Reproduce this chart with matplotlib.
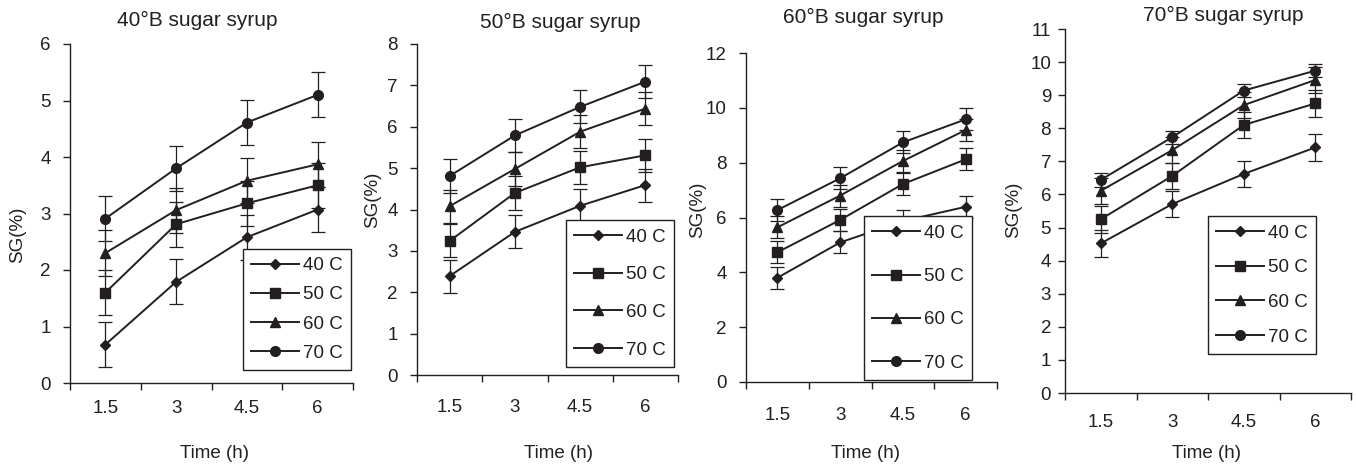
import numpy as np
import matplotlib
matplotlib.use('Agg')
import matplotlib.pyplot as plt

plt.rcParams['font.family'] = ['Liberation Sans', 'DejaVu Sans']
plt.rcParams['font.size'] = 13.5

ink = '#231f20'

# categorical time axis
times = ['1.5', '3', '4.5', '6']
temps = ['40 C', '50 C', '60 C', '70 C']
markers = ['D', 's', '^', 'o']

# SG(%) per syrup strength, one row per drying temperature
b40_sg = [[0.68, 1.79, 2.58, 3.07],
          [1.60, 2.81, 3.18, 3.50],
          [2.30, 3.06, 3.58, 3.87],
          [2.91, 3.80, 4.61, 5.10]]
b50_sg = [[2.39, 3.46, 4.09, 4.59],
          [3.24, 4.40, 5.02, 5.31],
          [4.08, 4.98, 5.88, 6.44],
          [4.81, 5.79, 6.48, 7.09]]
b60_sg = [[3.80, 5.09, 5.87, 6.39],
          [4.73, 5.91, 7.22, 8.12],
          [5.64, 6.80, 8.06, 9.19],
          [6.27, 7.43, 8.74, 9.58]]
b70_sg = [[4.52, 5.71, 6.62, 7.42],
          [5.25, 6.56, 8.10, 8.75],
          [6.11, 7.34, 8.70, 9.46],
          [6.44, 7.73, 9.14, 9.74]]

# error bar half-widths
b40_err = [0.4, 0.4, 0.4, 0.4]
b50_err = [0.4, 0.4, 0.4, 0.4]
b60_err = [0.4, 0.4, 0.4, 0.4]
b70_err = [0.4, 0.4, 0.4, 0.2]

titles = ['40°B sugar syrup', '50°B sugar syrup', '60°B sugar syrup', '70°B sugar syrup']
ymaxes = [6, 8, 12, 11]
ysteps = [1, 1, 2, 1]

W, H = 1356, 470
fig = plt.figure(figsize=(W / 100, H / 100), dpi=100)

# pixel boxes: left, right, top, bottom of each axes
boxes = [(70, 353, 44, 383), (417, 678, 44, 375), (746, 997, 53, 382), (1065, 1351, 29, 393)]
# legend lower-left corner (axes fraction) and label spacing
leg_pos = [(0.611, 0.038), (0.571, 0.024), (0.470, 0.006), (0.500, 0.107)]
leg_space = [0.64, 1.09, 1.39, 0.93]
title_xy = [(197, 20), (560, 22), (863, 17), (1223, 15)]
xlab_xy = [(215, 453), (558, 453), (866, 453), (1206, 453)]
ylab_xy = [(18, 235), (373, 200), (698, 210), (1014, 210)]
xpad = [12, 17, 18, 15]
ypad = [9, 9, 9, 5]

data = [b40_sg, b50_sg, b60_sg, b70_sg]
errs = [b40_err, b50_err, b60_err, b70_err]

x = np.arange(len(times)) + 0.5
for k in range(4):
    l, r, t, b = boxes[k]
    ax = fig.add_axes([l / W, 1 - b / H, (r - l) / W, (b - t) / H])
    for i in range(4):
        ax.errorbar(x, data[k][i], yerr=errs[k][i], fmt='none',
                    ecolor=ink, elinewidth=0.9, capsize=5, capthick=0.9, zorder=2)
        ax.plot(x, data[k][i], color=ink, lw=1.4, marker=markers[i],
                ms=7 if markers[i] != 'D' else 5.5, label=temps[i], zorder=3)
    ax.set_xlim(0, 4)
    ax.set_ylim(0, ymaxes[k])
    ax.set_yticks(np.arange(0, ymaxes[k] + 0.1, ysteps[k]))
    ax.set_xticks(x)
    ax.set_xticklabels(times)
    ax.set_xticks(np.arange(5), minor=True)
    ax.tick_params(axis='x', which='major', length=0, pad=xpad[k], colors=ink)
    ax.tick_params(axis='x', which='minor', length=5, width=1, color=ink)
    ax.tick_params(axis='y', length=5, width=1, pad=ypad[k], colors=ink)
    for s in ['top', 'right']:
        ax.spines[s].set_visible(False)
    for s in ['left', 'bottom']:
        ax.spines[s].set_color(ink)
        ax.spines[s].set_linewidth(1)
    leg = ax.legend(loc='lower left', bbox_to_anchor=leg_pos[k], borderaxespad=0,
                    frameon=True, fancybox=False, edgecolor=ink, framealpha=1,
                    labelspacing=leg_space[k], handlelength=2.56, handletextpad=0.2,
                    borderpad=0.45, fontsize=13.5)
    leg.get_frame().set_linewidth(1)
    leg.set_zorder(5)
    for txt in leg.get_texts():
        txt.set_color(ink)

    fig.text(title_xy[k][0] / W, 1 - title_xy[k][1] / H, titles[k],
             ha='center', va='center', fontsize=15, color=ink)
    fig.text(xlab_xy[k][0] / W, 1 - xlab_xy[k][1] / H, 'Time (h)',
             ha='center', va='center', fontsize=13.5, color=ink)
    fig.text(ylab_xy[k][0] / W, 1 - ylab_xy[k][1] / H, 'SG(%)',
             ha='center', va='center', rotation=90, fontsize=13.5, color=ink)

fig.savefig('out.png', dpi=100)
